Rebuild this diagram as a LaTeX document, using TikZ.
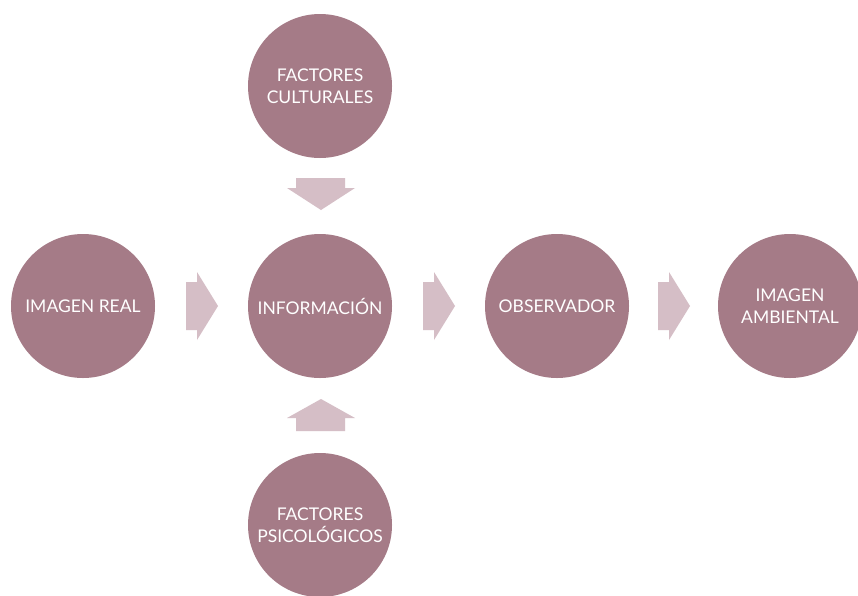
\documentclass[tikz,border=0pt]{standalone}
\usepackage{fontspec}
\setmainfont{Lato}
\definecolor{circc}{RGB}{165,123,135}
\definecolor{arrc}{RGB}{213,190,198}
\begin{document}
\begin{tikzpicture}[x=1pt,y=-1pt,
  circ/.style={circle,fill=circc,minimum size=144pt,inner sep=0pt,text=white,
    font=\fontsize{17.5}{22}\selectfont,align=center},
  blockarrow/.style={fill=arrc}]
\useasboundingbox (0,0) rectangle (858,595);
\fill[white] (0,0) rectangle (858,595);
\node[circ] (real) at (83,306) {IMAGEN REAL};
\node[circ] (info) at (320,306) {INFORMACIÓN};
\node[circ] (obs) at (557,306) {OBSERVADOR};
\node[circ] (amb) at (790,306) {IMAGEN\\AMBIENTAL};
\node[circ] (cult) at (320,86) {FACTORES\\CULTURALES};
\node[circ] (psic) at (320,525) {FACTORES\\PSICOLÓGICOS};
% right-pointing block arrows
\foreach \x in {186,423,658}{
  \fill[blockarrow] (\x,282) -- (\x+11,282) -- (\x+11,272) -- (\x+32,306)
    -- (\x+11,340) -- (\x+11,330) -- (\x,330) -- cycle;
}
% down arrow
\fill[blockarrow] (296,178) -- (345,178) -- (345,188) -- (355,188) -- (321,210)
  -- (287,188) -- (296,188) -- cycle;
% up arrow
\fill[blockarrow] (296,431) -- (345,431) -- (345,418) -- (355,418) -- (321,399)
  -- (287,418) -- (296,418) -- cycle;
\end{tikzpicture}
\end{document}
